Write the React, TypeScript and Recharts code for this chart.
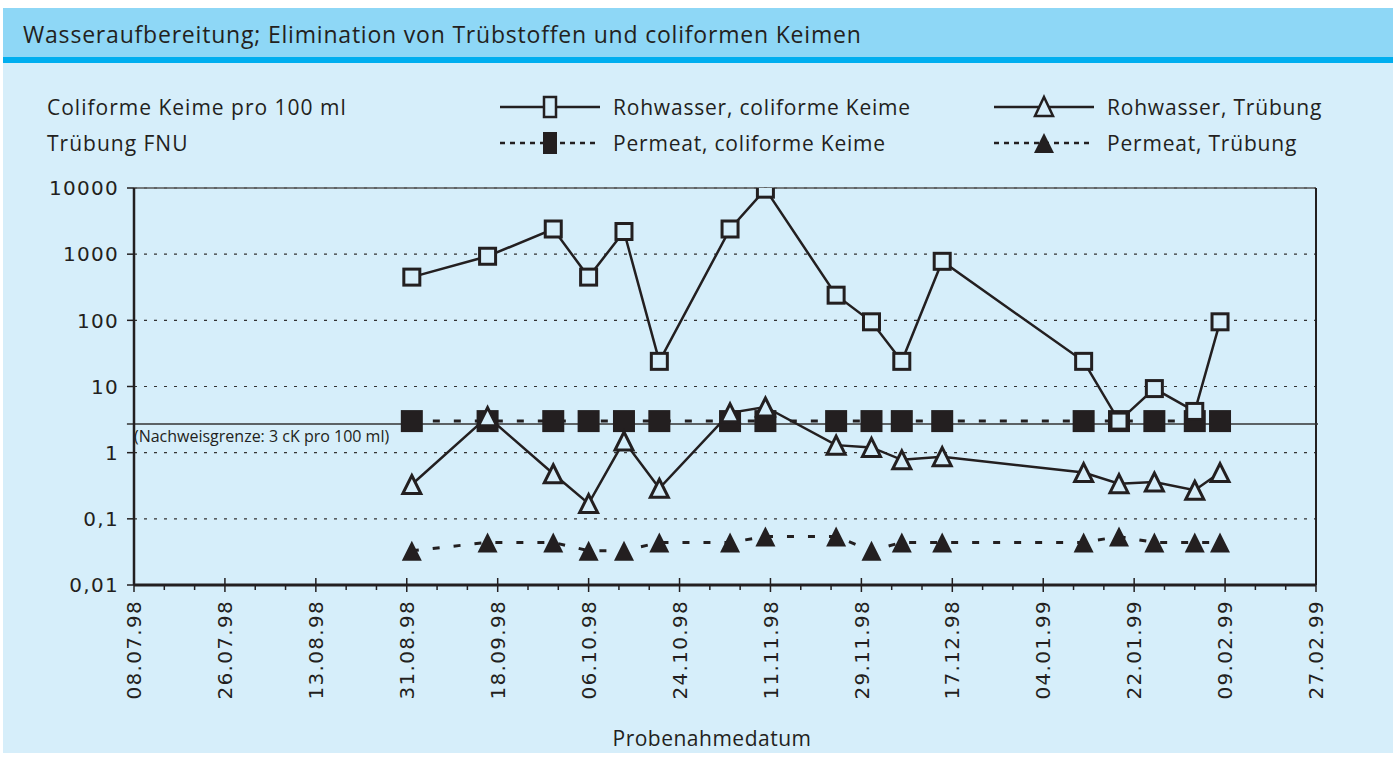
import React from 'react';
import { LineChart, Line, XAxis, YAxis, CartesianGrid, ReferenceLine } from 'recharts';

// sampling dates (dd.mm.yy)
const sampleDates = [
  '01.09.98', '16.09.98', '29.09.98', '06.10.98', '13.10.98', '20.10.98',
  '03.11.98', '10.11.98', '24.11.98', '01.12.98', '07.12.98', '15.12.98',
  '12.01.99', '19.01.99', '26.01.99', '03.02.99', '08.02.99',
];

// coliforme Keime pro 100 ml
const rohKeime = [450, 930, 2400, 450, 2200, 24, 2400, 9600, 240, 95, 24, 780, 24, 3, 9.3, 4.2, 95];
const permKeime = [3, 3, 3, 3, 3, 3, 3, 3, 3, 3, 3, 3, 3, 3, 3, 3, 3];

// Trübung FNU
const rohTruebung = [0.33, 3.5, 0.48, 0.17, 1.5, 0.29, 4.0, 4.9, 1.3, 1.2, 0.78, 0.87, 0.5, 0.34, 0.36, 0.27, 0.5];
const permTruebung = [0.033, 0.044, 0.044, 0.033, 0.033, 0.044, 0.044, 0.054, 0.054, 0.033, 0.044, 0.044, 0.044, 0.054, 0.044, 0.044, 0.044];

const xTickLabels = [
  '08.07.98', '26.07.98', '13.08.98', '31.08.98', '18.09.98', '06.10.98', '24.10.98',
  '11.11.98', '29.11.98', '17.12.98', '04.01.99', '22.01.99', '09.02.99', '27.02.99',
];
const yTicks = [0.01, 0.1, 1, 10, 100, 1000, 10000];
const detectionLimit = 2.7;

const INK = '#231f20';
const PANEL = '#d6eefa';
const textFont = "'Open Sans', sans-serif";
const tickFont = "'DejaVu Sans', sans-serif";

const toDay = (s: string) => {
  const [d, m, y] = s.split('.').map(Number);
  return Date.UTC(1900 + y, m - 1, d) / 86400000;
};
const day0 = toDay(xTickLabels[0]);
const dayEnd = toDay(xTickLabels[xTickLabels.length - 1]) - day0;
const majorDays = xTickLabels.map((l) => toDay(l) - day0);
const step = majorDays[1] / 3;
const allTicks: number[] = [];
for (let t = 0; t <= dayEnd + 0.01; t += step) allTicks.push(Math.round(t));

const data = sampleDates.map((d, i) => ({
  day: toDay(d) - day0,
  rohKeime: rohKeime[i],
  permKeime: permKeime[i],
  rohTruebung: rohTruebung[i],
  permTruebung: permTruebung[i],
}));

const fmtY = (v: number) => String(v).replace('.', ',');

const OpenSquare = (p: any) =>
  p.cx == null ? null : (
    <rect key={p.key} x={p.cx - 8} y={p.cy - 8} width={16} height={16} fill={PANEL} stroke={INK} strokeWidth={3} />
  );
const FilledSquare = (p: any) =>
  p.cx == null ? null : <rect key={p.key} x={p.cx - 11} y={p.cy - 11} width={22} height={22} fill={INK} />;
const OpenTriangle = (p: any) =>
  p.cx == null ? null : (
    <polygon
      key={p.key}
      points={`${p.cx},${p.cy - 9} ${p.cx + 9},${p.cy + 9} ${p.cx - 9},${p.cy + 9}`}
      fill={PANEL}
      stroke={INK}
      strokeWidth={3}
    />
  );
const FilledTriangle = (p: any) =>
  p.cx == null ? null : (
    <polygon key={p.key} points={`${p.cx},${p.cy - 10} ${p.cx + 10},${p.cy + 10} ${p.cx - 10},${p.cy + 10}`} fill={INK} />
  );

const DateTick = (props: any) => {
  const { x, y, payload } = props;
  const idx = majorDays.indexOf(payload.value);
  const major = idx >= 0;
  return (
    <g>
      <line x1={x} x2={x} y1={major ? y - 7 : y} y2={y + (major ? 7 : 5)} stroke={INK} strokeWidth={1.5} />
      {major && (
        <text
          x={x}
          y={y + 15}
          transform={`rotate(-90 ${x} ${y + 15})`}
          textAnchor="end"
          dy="0.36em"
          fill={INK}
          fontSize={20}
          fontFamily={tickFont}
          letterSpacing={1.3}
        >
          {xTickLabels[idx]}
        </text>
      )}
    </g>
  );
};

const ValueTick = (props: any) => {
  const { x, y, payload } = props;
  return (
    <text x={x} y={y} dy="0.36em" textAnchor="end" fill={INK} fontSize={20} fontFamily={tickFont} letterSpacing={1.3}>
      {fmtY(payload.value)}
    </text>
  );
};

const legendItems = [
  { label: 'Rohwasser, coliforme Keime', x: 500, y: 107, dashed: false, mark: 'openSquare' },
  { label: 'Rohwasser, Trübung', x: 994, y: 107, dashed: false, mark: 'openTriangle' },
  { label: 'Permeat, coliforme Keime', x: 500, y: 143, dashed: true, mark: 'filledSquare' },
  { label: 'Permeat, Trübung', x: 994, y: 143, dashed: true, mark: 'filledTriangle' },
];

const LegendMark = ({ mark }: { mark: string }) => {
  if (mark === 'openSquare') return <rect x={44} y={5} width={12} height={20} fill={PANEL} stroke={INK} strokeWidth={2.5} />;
  if (mark === 'filledSquare') return <rect x={43} y={4} width={14} height={22} fill={INK} />;
  if (mark === 'openTriangle')
    return <polygon points="50,5 59,24 41,24" fill={PANEL} stroke={INK} strokeWidth={2.5} />;
  return <polygon points="50,5 60,25 40,25" fill={INK} />;
};

export default function App() {
  return (
    <div style={{ position: 'absolute', left: 0, top: 0, width: 1398, height: 758, fontFamily: textFont, color: INK }}>
      <div style={{ position: 'absolute', left: 3, top: 8, width: 1390, height: 50, background: '#8ed7f6' }} />
      <div style={{ position: 'absolute', left: 3, top: 57, width: 1390, height: 6, background: '#00aeef' }} />
      <div style={{ position: 'absolute', left: 3, top: 63, width: 1390, height: 690, background: PANEL }} />
      <div style={{ position: 'absolute', left: 23, top: 18, fontSize: 23, letterSpacing: 0.8, whiteSpace: 'nowrap' }}>
        Wasseraufbereitung; Elimination von Trübstoffen und coliformen Keimen
      </div>
      <div style={{ position: 'absolute', left: 47, top: 92, fontSize: 21, letterSpacing: 1, lineHeight: '30px', whiteSpace: 'nowrap' }}>
        Coliforme Keime pro 100 ml
      </div>
      <div style={{ position: 'absolute', left: 47, top: 128, fontSize: 21, letterSpacing: 1, lineHeight: '30px', whiteSpace: 'nowrap' }}>
        Trübung FNU
      </div>
      {legendItems.map((it) => (
        <div key={it.label} style={{ position: 'absolute', left: it.x, top: it.y - 15, height: 30, display: 'flex', alignItems: 'center' }}>
          <svg width={100} height={30} style={{ display: 'block' }}>
            <line x1={0} x2={100} y1={15} y2={15} stroke={INK} strokeWidth={2.5} strokeDasharray={it.dashed ? '5 5' : undefined} />
            <LegendMark mark={it.mark} />
          </svg>
          <span style={{ marginLeft: 13, fontSize: 21, letterSpacing: 0.8, whiteSpace: 'nowrap' }}>{it.label}</span>
        </div>
      ))}
      <div style={{ position: 'absolute', left: 0, top: 0 }}>
        <LineChart width={1398} height={758} data={data} margin={{ top: 188, right: 82, bottom: 0, left: 0 }}>
          <CartesianGrid vertical={false} stroke="#333" strokeDasharray="3 7" strokeWidth={1.2} />
          <XAxis
            dataKey="day"
            type="number"
            domain={[0, dayEnd]}
            ticks={allTicks}
            interval={0}
            height={173}
            tickSize={0}
            tickMargin={0}
            tickLine={false}
            tick={<DateTick />}
            axisLine={{ stroke: INK, strokeWidth: 3 }}
            label={{
              value: 'Probenahmedatum',
              position: 'insideBottom',
              offset: 12,
              dx: -13,
              fontSize: 21,
              letterSpacing: 0.5,
              fill: INK,
              fontFamily: textFont,
            }}
          />
          <YAxis
            type="number"
            scale="log"
            domain={[0.01, 10000]}
            ticks={yTicks}
            interval={0}
            allowDataOverflow
            width={134}
            tickSize={7}
            tickMargin={8}
            tick={<ValueTick />}
            tickLine={{ stroke: INK, strokeWidth: 1.5 }}
            axisLine={{ stroke: INK, strokeWidth: 2.5 }}
          />
          <ReferenceLine y={10000} stroke="#555" strokeWidth={1.5} />
          <ReferenceLine x={dayEnd} stroke={INK} strokeWidth={2} />
          <ReferenceLine
            segment={[{ x: -1.4, y: detectionLimit }, { x: dayEnd + 0.4, y: detectionLimit }]}
            ifOverflow="visible"
            stroke="#333"
            strokeWidth={1.5}
            label={{
              value: '(Nachweisgrenze: 3 cK pro 100 ml)',
              position: 'insideTopLeft',
              offset: 7,
              fontSize: 16,
              fill: INK,
              fontFamily: textFont,
            }}
          />
          <Line
            dataKey="permTruebung"
            stroke={INK}
            strokeWidth={3}
            strokeDasharray="7 14"
            dot={FilledTriangle}
            activeDot={false}
            isAnimationActive={false}
          />
          <Line
            dataKey="permKeime"
            stroke={INK}
            strokeWidth={3}
            strokeDasharray="7 14"
            dot={FilledSquare}
            activeDot={false}
            isAnimationActive={false}
          />
          <Line
            dataKey="rohTruebung"
            stroke={INK}
            strokeWidth={2.5}
            dot={OpenTriangle}
            activeDot={false}
            isAnimationActive={false}
          />
          <Line
            dataKey="rohKeime"
            stroke={INK}
            strokeWidth={2.5}
            dot={OpenSquare}
            activeDot={false}
            isAnimationActive={false}
          />
        </LineChart>
      </div>
    </div>
  );
}
